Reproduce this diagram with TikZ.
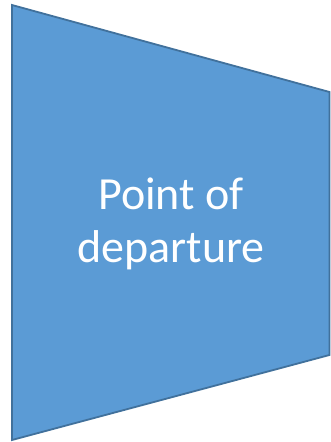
\documentclass[tikz,border=0pt]{standalone}
\usepackage{fontspec}
\setmainfont{Carlito}
\definecolor{fillblue}{HTML}{5B9BD5}
\definecolor{edgeblue}{HTML}{41719C}
\tikzset{shapeedge/.style={draw=edgeblue, fill=fillblue, line width=1.8pt, line join=miter},
  label/.style={text=white, align=center, inner sep=0pt, font=\fontsize{46}{53}\selectfont}}
\begin{document}
\begin{tikzpicture}[x=1pt,y=-1pt]
\useasboundingbox (0,0) rectangle (330,442);
\coordinate (tl) at (12,5);
\coordinate (tr) at (329.5,92);
\coordinate (br) at (329.5,355);
\coordinate (bl) at (12,440);
\draw[shapeedge] (tl) -- (tr) -- (br) -- (bl) -- cycle;
\node[label, anchor=base] (t) at (171,262) {Point of\\departure};
\end{tikzpicture}
\end{document}
